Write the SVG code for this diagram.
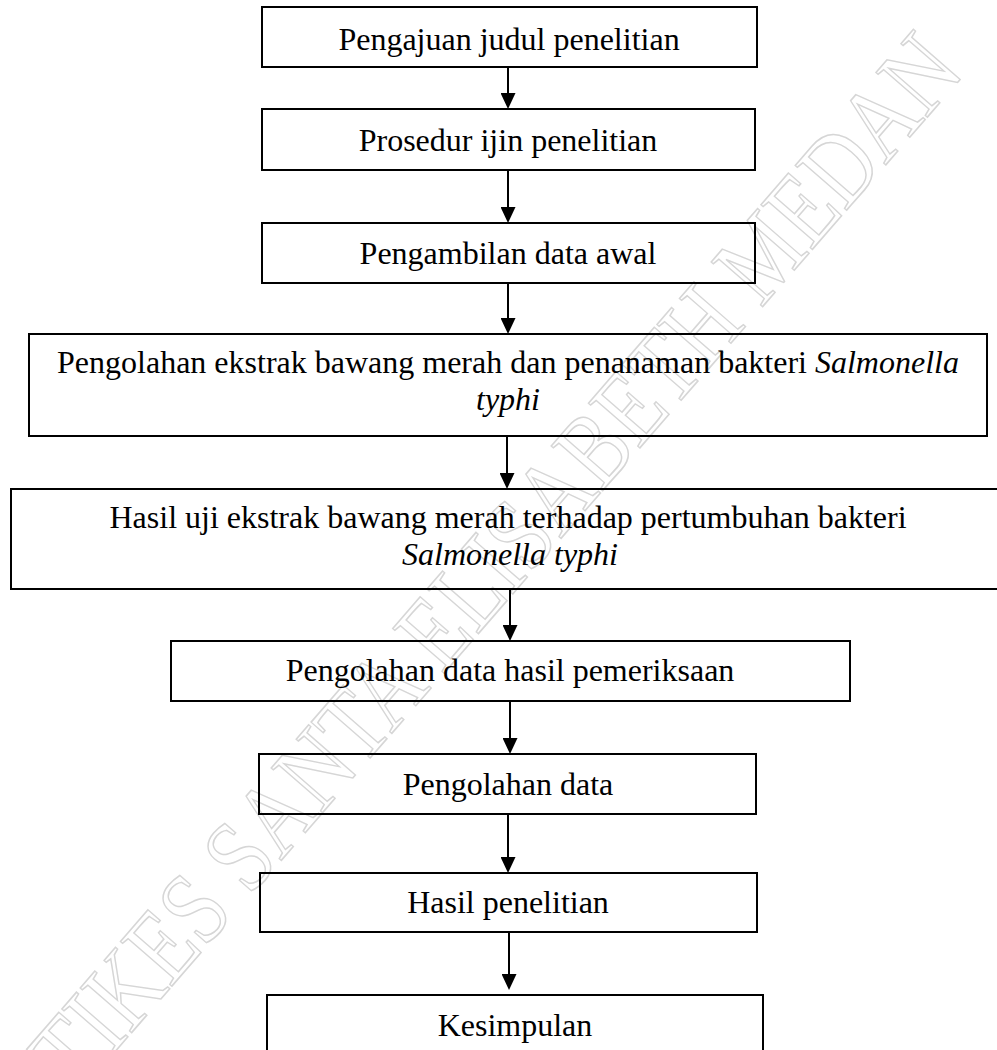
<svg xmlns="http://www.w3.org/2000/svg" width="997" height="1050" viewBox="0 0 997 1050">
<style>
.box{fill:none;stroke:#000;stroke-width:2}
.t{font-family:"Liberation Serif","Times New Roman",serif;font-size:32px;fill:#000;text-anchor:middle}
.i{font-style:italic}
.wm{font-family:"Liberation Serif","Times New Roman",serif;font-size:104px;fill:none;stroke:#d6d6d6;stroke-width:1.6}
.conn line{stroke:#000;stroke-width:2}
</style>
<defs>
<marker id="ah" viewBox="0 0 16 15" refX="12" refY="7.5" markerWidth="16" markerHeight="15" markerUnits="userSpaceOnUse" orient="auto">
<path d="M0,0 L16,7.5 L0,15 z" fill="#000"/>
</marker>
</defs>
<rect width="997" height="1050" fill="#fff"/>
<text class="wm" x="0" y="0" transform="translate(46 1131) rotate(-49) scale(0.82 1)">STIKES SANTA ELISABETH MEDAN</text>
<g id="n1"><rect class="box" x="262" y="7" width="495" height="60"/><text class="t" x="509" y="50">Pengajuan judul penelitian</text></g>
<g id="n2"><rect class="box" x="262" y="109" width="493" height="61"/><text class="t" x="508" y="151">Prosedur ijin penelitian</text></g>
<g id="n3"><rect class="box" x="262" y="223" width="493" height="60"/><text class="t" x="508" y="264">Pengambilan data awal</text></g>
<g id="n4"><rect class="box" x="29" y="334" width="958" height="102"/><text class="t" x="508" y="373">Pengolahan ekstrak bawang merah dan penanaman bakteri <tspan class="i">Salmonella</tspan></text><text class="t i" x="508" y="410">typhi</text></g>
<g id="n5"><rect class="box" x="11" y="489" width="992" height="100"/><text class="t" x="508" y="528">Hasil uji ekstrak bawang merah terhadap pertumbuhan bakteri</text><text class="t i" x="510" y="565">Salmonella typhi</text></g>
<g id="n6"><rect class="box" x="171" y="641" width="679" height="60"/><text class="t" x="510" y="681">Pengolahan data hasil pemeriksaan</text></g>
<g id="n7"><rect class="box" x="259" y="754" width="497" height="60"/><text class="t" x="508" y="795">Pengolahan data</text></g>
<g id="n8"><rect class="box" x="260" y="873" width="497" height="59"/><text class="t" x="508" y="913">Hasil penelitian</text></g>
<g id="n9"><rect class="box" x="267" y="995" width="496" height="62"/><text class="t" x="515" y="1036">Kesimpulan</text></g>
<g class="conn" id="connectors">
<line x1="508" y1="67" x2="508" y2="105" marker-end="url(#ah)"/>
<line x1="508" y1="170" x2="508" y2="219" marker-end="url(#ah)"/>
<line x1="508" y1="283" x2="508" y2="330" marker-end="url(#ah)"/>
<line x1="507" y1="436" x2="507" y2="485" marker-end="url(#ah)"/>
<line x1="510" y1="589" x2="510" y2="637" marker-end="url(#ah)"/>
<line x1="510" y1="701" x2="510" y2="750" marker-end="url(#ah)"/>
<line x1="508" y1="814" x2="508" y2="869" marker-end="url(#ah)"/>
<line x1="509" y1="932" x2="509" y2="986" marker-end="url(#ah)"/>
</g>
</svg>
